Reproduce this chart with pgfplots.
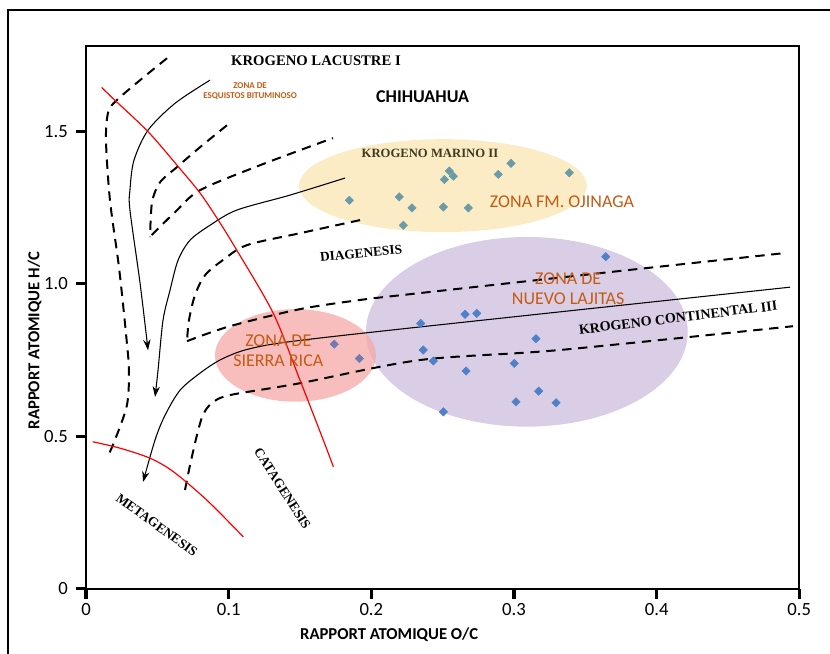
\documentclass[border=0pt]{standalone}
\usepackage{pgfplots}
\pgfplotsset{compat=1.18}
\usepackage{fontspec}
\setmainfont{Carlito}
\newfontfamily\tnr{Liberation Serif}
\usetikzlibrary{arrows.meta}
\definecolor{zorange}{RGB}{197,90,17}
\definecolor{ellY}{RGB}{251,236,198}
\definecolor{ellP}{RGB}{218,206,230}
\definecolor{ellR}{RGB}{246,168,168}
\definecolor{tealpt}{RGB}{107,155,165}
\definecolor{bluept}{RGB}{79,129,200}
\definecolor{purpt}{RGB}{112,122,182}
\definecolor{olive}{RGB}{64,58,30}
\begin{document}
\begin{tikzpicture}
\draw[line width=1pt] (6pt,-7.5pt) rectangle (650pt,-520pt);
\begin{axis}[
  at={(64.5pt,-441.525pt)}, anchor=south west,
  scale only axis, width=534.975pt, height=407.25pt,
  xmin=0, xmax=0.5, ymin=0, ymax=1.781,
  axis line style={line width=1.5pt},
  tick align=outside, major tick length=7.5pt,
  tick style={line width=2.5pt, black},
  xtick pos=bottom, ytick pos=left,
  xtick={0,0.1,0.2,0.3,0.4,0.5}, xticklabels={0,0.1,0.2,0.3,0.4,0.5},
  ytick={0,0.5,1,1.5}, yticklabels={0,0.5,1.0,1.5},
  /pgf/number format/assume math mode=true,
  xticklabel style={font=\fontsize{14}{16}\selectfont, anchor=north, inner sep=0pt, yshift=-3pt},
  yticklabel style={font=\fontsize{14}{16}\selectfont, anchor=east, inner sep=0pt, xshift=-6pt},
  xlabel={RAPPORT ATOMIQUE O/C},
  ylabel={RAPPORT ATOMIQUE H/C},
  xlabel style={font=\bfseries\fontsize{12.5}{14}\selectfont, at={(axis description cs:0.425,-0.0853)}, anchor=center},
  ylabel style={font=\bfseries\fontsize{12.5}{14}\selectfont, at={(axis description cs:-0.0722,0.457)}, anchor=center, rotate=0},
  clip=false,
]
% ellipses
\fill[ellY] (axis cs:0.2502,1.322) ellipse [x radius=0.1009, y radius=0.1525];
\fill[ellP] (axis cs:0.309,0.8426) ellipse [x radius=0.1128, y radius=0.311];
\fill[ellR, opacity=0.75] (axis cs:0.1468,0.7652) ellipse [x radius=0.0564, y radius=0.1518];

% dashed boundary curves
\addplot[black, line width=1.5pt, dash pattern=on 7pt off 5pt, smooth, tension=0.5] coordinates {
(0.0568,1.740) (0.0379,1.668) (0.0215,1.602) (0.0156,1.564) (0.0140,1.471) (0.0168,1.274)
(0.0231,1.055) (0.0280,0.838) (0.0301,0.717) (0.0287,0.602) (0.0203,0.488) (0.0147,0.428)};
\addplot[black, line width=1.5pt, dash pattern=on 7pt off 5pt, smooth, tension=0.5] coordinates {
(0.0988,1.520) (0.0799,1.448) (0.0638,1.383) (0.0519,1.333) (0.0463,1.268) (0.0449,1.153)};
\addplot[black, line width=1.5pt, dash pattern=on 7pt off 5pt, smooth, tension=0.5] coordinates {
(0.0460,1.160) (0.0624,1.235) (0.0799,1.307) (0.1220,1.389) (0.1731,1.478)};
\addplot[black, line width=1.5pt, dash pattern=on 7pt off 5pt, smooth, tension=0.5] coordinates {
(0.1921,1.209) (0.1500,1.166) (0.1129,1.127) (0.0960,1.078) (0.0834,1.028) (0.0764,0.963)
(0.0722,0.881) (0.0708,0.812)};
\addplot[black, line width=1.5pt, dash pattern=on 7pt off 5pt, smooth, tension=0.5] coordinates {
(0.0708,0.812) (0.1009,0.861) (0.1500,0.917) (0.1921,0.947) (0.2271,0.966) (0.3603,1.035) (0.4900,1.101)};
\addplot[black, line width=1.5pt, dash pattern=on 7pt off 5pt, smooth, tension=0.5] coordinates {
(0.0694,0.324) (0.0729,0.405) (0.0778,0.504) (0.0820,0.570) (0.0883,0.609) (0.1009,0.635)
(0.1500,0.674) (0.2341,0.750) (0.3323,0.783) (0.4956,0.861)};

% solid evolution paths
\addplot[black, line width=0.8pt, smooth, tension=0.5, -{Stealth[length=8pt,width=5.5pt]}] coordinates {
(0.0869,1.668) (0.0624,1.592) (0.0435,1.504) (0.0336,1.405) (0.0308,1.307) (0.0308,1.242)
(0.0379,1.002) (0.0435,0.782)};
\addplot[black, line width=0.8pt, smooth, tension=0.5, -{Stealth[length=8pt,width=5.5pt]}] coordinates {
(0.1816,1.347) (0.1430,1.291) (0.1058,1.242) (0.0869,1.192) (0.0729,1.143) (0.0645,1.077)
(0.0589,0.979) (0.0540,0.881) (0.0505,0.717) (0.0484,0.629)};
\addplot[black, line width=0.8pt, smooth, tension=0.5, -{Stealth[length=8pt,width=5.5pt]}] coordinates {
(0.4935,0.989) (0.2271,0.855) (0.1409,0.809) (0.1115,0.783) (0.0939,0.750) (0.0799,0.707)
(0.0659,0.651) (0.0554,0.569) (0.0484,0.488) (0.0400,0.350)};

% red lines
\addplot[red, line width=0.9pt, smooth, tension=0.5] coordinates {
(0.0110,1.644) (0.0203,1.602) (0.0437,1.498) (0.0647,1.384) (0.0799,1.298) (0.0927,1.209)
(0.1056,1.111) (0.1313,0.903) (0.1500,0.684) (0.1663,0.488) (0.1734,0.400)};
\addplot[red, line width=0.9pt, smooth, tension=0.5] coordinates {
(0.0047,0.482) (0.0238,0.461) (0.0449,0.428) (0.0612,0.384) (0.0846,0.291) (0.1103,0.170)};

% data points
\addplot[only marks, mark=square*, mark size=2.2pt, mark options={rotate=45, fill=tealpt, draw=tealpt}] coordinates {
(0.1846,1.274) (0.2196,1.285) (0.2285,1.249) (0.2224,1.192) (0.2505,1.252) (0.2680,1.249)
(0.2512,1.342) (0.2547,1.370) (0.2575,1.353) (0.2890,1.359) (0.2979,1.395) (0.3388,1.364)};
\addplot[only marks, mark=square*, mark size=2.2pt, mark options={rotate=45, fill=bluept, draw=bluept}] coordinates {
(0.3643,1.089) (0.2346,0.870) (0.2657,0.900) (0.2739,0.903) (0.2364,0.783) (0.2435,0.747)
(0.2664,0.714) (0.2505,0.580) (0.3002,0.739) (0.3154,0.820) (0.3173,0.648) (0.3014,0.613) (0.3295,0.610)};
\addplot[only marks, mark=square*, mark size=2.2pt, mark options={rotate=45, fill=purpt, draw=purpt}] coordinates {
(0.1740,0.802) (0.1916,0.755)};

% labels
\node[font=\tnr\bfseries\fontsize{11}{13}\selectfont] at (axis cs:0.1612,1.733) {KROGENO LACUSTRE I};
\node[font=\bfseries\fontsize{6.7}{8}\selectfont, text=zorange, align=center, inner sep=0pt] at (axis cs:0.115,1.632) {ZONA DE\\ESQUISTOS BITUMINOSO};
\node[font=\bfseries\fontsize{13.5}{15}\selectfont] at (axis cs:0.2359,1.613) {CHIHUAHUA};
\node[font=\tnr\bfseries\fontsize{9.5}{11}\selectfont, text=olive] at (axis cs:0.2411,1.4275) {KROGENO MARINO II};
\node[font=\fontsize{13.5}{15}\selectfont, text=zorange] at (axis cs:0.3337,1.269) {ZONA FM. OJINAGA};
\node[font=\tnr\bfseries\fontsize{10}{12}\selectfont, rotate=6] at (axis cs:0.1928,1.100) {DIAGENESIS};
\node[font=\fontsize{13.5}{15}\selectfont, text=zorange, align=center] at (axis cs:0.338,0.985) {ZONA DE\\NUEVO LAJITAS};
\node[font=\tnr\bfseries\fontsize{10.5}{12}\selectfont, rotate=7] at (axis cs:0.415,0.889) {KROGENO CONTINENTAL III};
\node[font=\fontsize{13.5}{15}\selectfont, text=zorange, align=center] at (axis cs:0.1348,0.779) {ZONA DE\\SIERRA RICA};
\node[font=\tnr\bfseries\fontsize{10}{12}\selectfont, rotate=-36] at (axis cs:0.0496,0.209) {METAGENESIS};
\node[font=\tnr\bfseries\fontsize{10}{12}\selectfont, rotate=-57.6] at (axis cs:0.1377,0.329) {CATAGENESIS};
\end{axis}
\pgfresetboundingbox
\useasboundingbox (0,0) rectangle (622.5pt,-489.75pt);
\end{tikzpicture}
\end{document}
